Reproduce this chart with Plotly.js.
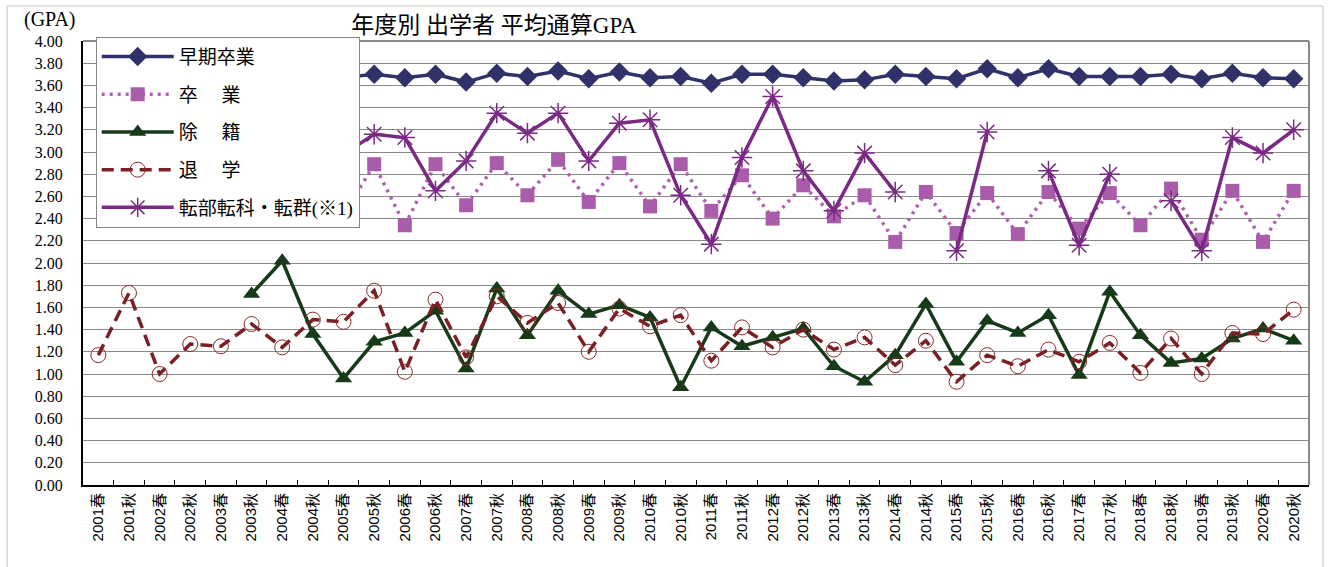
<!DOCTYPE html>
<html>
<head>
<meta charset="utf-8">
<script src="https://cdn.plot.ly/plotly-3.0.1.min.js"></script>
<style>html,body{margin:0;padding:0;background:#fff;}#chart{width:1329px;height:567px;}</style>
</head>
<body>
<div id="chart"></div>
<script>
const categories = [
  "2001春","2001秋","2002春","2002秋","2003春","2003秋","2004春","2004秋","2005春","2005秋",
  "2006春","2006秋","2007春","2007秋","2008春","2008秋","2009春","2009秋","2010春","2010秋",
  "2011春","2011秋","2012春","2012秋","2013春","2013秋","2014春","2014秋","2015春","2015秋",
  "2016春","2016秋","2017春","2017秋","2018春","2018秋","2019春","2019秋","2020春","2020秋"
];
const earlyGrad = [null,null,null,null,null,null,null,null,3.67,3.70,
  3.67,3.70,3.63,3.71,3.68,3.73,3.66,3.72,3.67,3.68,
  3.62,3.70,3.70,3.67,3.64,3.65,3.70,3.68,3.66,3.75,
  3.67,3.75,3.68,3.68,3.68,3.70,3.66,3.71,3.67,3.66];
const graduated = [null,null,null,null,null,null,null,null,2.43,2.89,
  2.34,2.89,2.52,2.90,2.61,2.93,2.55,2.90,2.51,2.89,
  2.47,2.79,2.40,2.70,2.42,2.61,2.19,2.64,2.27,2.63,
  2.26,2.64,2.31,2.63,2.34,2.67,2.21,2.65,2.19,2.65];
const expelled = [null,null,null,null,null,1.72,2.02,1.36,0.96,1.29,
  1.37,1.57,1.05,1.77,1.35,1.75,1.54,1.62,1.51,0.88,
  1.42,1.25,1.33,1.41,1.07,0.93,1.17,1.63,1.11,1.48,
  1.37,1.53,0.99,1.74,1.35,1.10,1.14,1.32,1.41,1.30];
const withdrawn = [1.17,1.73,1.00,1.27,1.25,1.45,1.24,1.49,1.47,1.75,
  1.02,1.67,1.15,1.70,1.46,1.64,1.20,1.59,1.43,1.53,
  1.12,1.42,1.24,1.40,1.22,1.33,1.08,1.30,0.93,1.17,
  1.07,1.22,1.11,1.28,1.01,1.32,1.00,1.37,1.36,1.58];
const transferred = [null,null,null,null,null,null,null,null,2.98,3.16,
  3.13,2.65,2.92,3.35,3.17,3.35,2.92,3.26,3.29,2.61,
  2.17,2.95,3.50,2.83,2.47,2.99,2.64,null,2.11,3.18,
  null,2.83,2.16,2.80,null,2.56,2.11,3.13,2.99,3.20];
const seriesNames = ["早期卒業","卒　 業","除　 籍","退　 学","転部転科・転群(※1)"];
const yTicks = [0,0.2,0.4,0.6,0.8,1.0,1.2,1.4,1.6,1.8,2.0,2.2,2.4,2.6,2.8,3.0,3.2,3.4,3.6,3.8,4.0];

const serif = '"Liberation Serif", "DejaVu Serif", "Noto Sans CJK JP", serif';
const traces = [
  {x: categories, y: earlyGrad, name: seriesNames[0], legendgroup: 'a', mode: 'lines+markers',
   line: {color: '#2f3168', width: 3.5}, marker: {symbol: 'diamond', size: 15, color: '#2f3168'}},
  {x: categories, y: graduated, name: seriesNames[1], legendgroup: 'b', mode: 'lines+markers',
   line: {color: '#b062b0', width: 3.5, dash: '3px,5px'}, marker: {symbol: 'square', size: 14, color: '#a95ca9'}},
  {x: categories, y: expelled, name: seriesNames[2], legendgroup: 'c', mode: 'lines+markers',
   line: {color: '#173a18', width: 3.5}, marker: {symbol: 'triangle-up', size: 15, color: '#173a18'}},
  {x: categories, y: withdrawn, name: seriesNames[3], legendgroup: 'd', mode: 'lines+markers',
   line: {color: '#7a1f23', width: 3.5, dash: '12px,7px'},
   marker: {symbol: 'circle-open', size: 15, color: '#8a2a2a', line: {width: 1, color: '#8a2a2a'}}},
  {x: categories, y: transferred, name: seriesNames[4], legendgroup: 'e', mode: 'lines+markers',
   line: {color: '#7a2a84', width: 3.5}, marker: {symbol: 'asterisk-open', size: 17, color: '#7a2a84', line: {width: 1.5, color: '#7a2a84'}}}
];
traces.forEach(t => { t.connectgaps = false; t.cliponaxis = false; });

const layout = {
  width: 1329, height: 567,
  margin: {l: 83, r: 20, t: 41, b: 82},
  paper_bgcolor: '#fff', plot_bgcolor: '#fff',
  showlegend: true,
  title: {text: '年度別 出学者 平均通算GPA', x: 494/1329, xref: 'container', xanchor: 'center',
          y: 1 - 25/567, yref: 'container', yanchor: 'middle',
          font: {family: serif, size: 23, color: '#000'}},
  xaxis: {type: 'category', range: [-0.5, 39.5], tickangle: -90, tickson: 'boundaries',
          ticks: 'inside', ticklen: 5, tickcolor: '#000', showline: true, linecolor: '#000', linewidth: 2,
          showgrid: false, zeroline: false, fixedrange: true,
          tickfont: {family: '"Liberation Sans", Arial, "Noto Sans CJK JP", sans-serif', size: 15, color: '#000'}},
  yaxis: {range: [0, 4], tickvals: yTicks, tickformat: '.2f', showline: true, linecolor: '#000', linewidth: 2,
          showgrid: true, gridcolor: '#8a8a8a', gridwidth: 1, zeroline: false, ticks: '', ticklen: 0,
          ticklabelstandoff: 15,
          tickfont: {family: serif, size: 16, color: '#000'}, fixedrange: true},
  legend: {x: (95.7-83)/1226, y: (485-36.7)/444, xanchor: 'left', yanchor: 'top',
           bgcolor: '#fff', bordercolor: '#888', borderwidth: 1,
           traceorder: 'grouped', tracegroupgap: 10, itemwidth: 72,
           font: {family: serif, size: 19, color: '#000'}},
  annotations: [
    {text: '(GPA)', xref: 'paper', yref: 'paper', x: (50-83)/1226, y: (485-20)/444,
     xanchor: 'center', yanchor: 'middle', showarrow: false, font: {family: serif, size: 20, color: '#000'}}
  ],
  shapes: [
    {type: 'line', xref: 'paper', yref: 'paper', x0: 0, x1: 1, y0: 1, y1: 1, line: {color: '#8a8a8a', width: 2}},
    {type: 'line', xref: 'paper', yref: 'paper', x0: 1, x1: 1, y0: 0, y1: 1, line: {color: '#8a8a8a', width: 2}},
    {type: 'rect', xref: 'paper', yref: 'paper', x0: (7-83)/1226, x1: (1323-83)/1226,
     y0: (485-580)/444, y1: (485-6)/444, line: {color: '#c4c4c4', width: 1}}
  ]
};
Plotly.newPlot('chart', traces, layout, {staticPlot: true, displayModeBar: false});
</script>
</body>
</html>
